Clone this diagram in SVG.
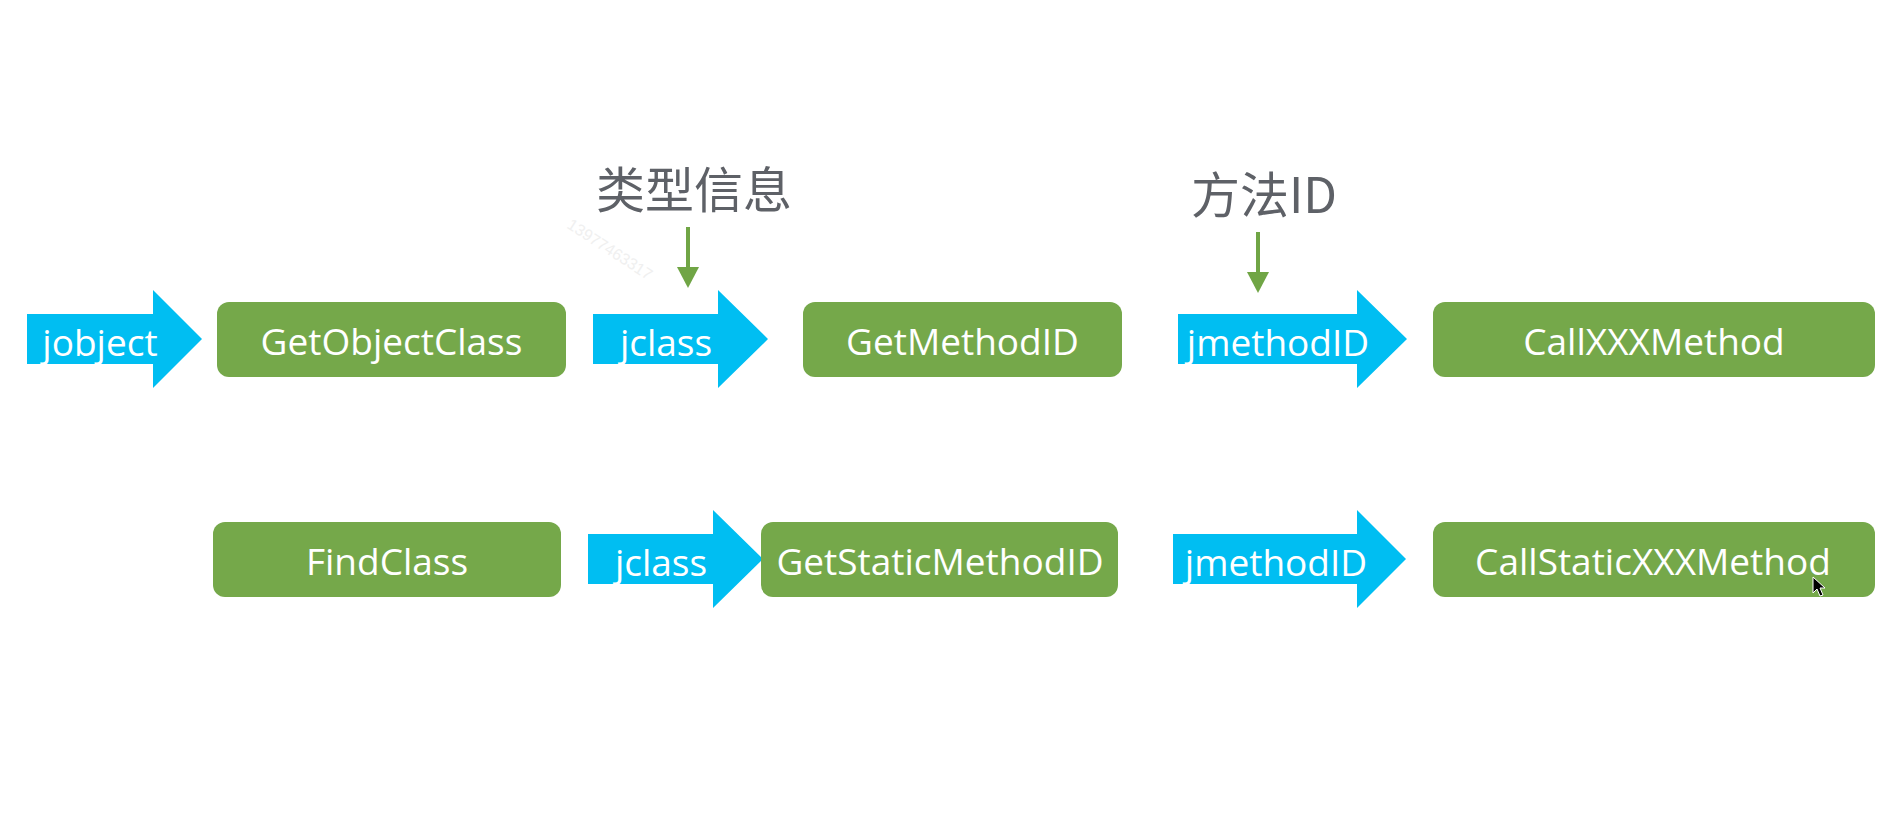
<svg xmlns="http://www.w3.org/2000/svg" width="1899" height="837" viewBox="0 0 1899 837">
  <style>
    .box { fill: #75A84A; }
    .flow { fill: #00BEF2; }
    .lbl { font-family: "Open Sans", "Noto Sans", "Liberation Sans", sans-serif; font-size: 37px; fill: #FFFFFF; text-anchor: middle; }
    .note { font-family: "Noto Sans CJK SC", "Noto Sans", sans-serif; font-size: 49px; fill: #5E6167; }
    .down { stroke: #70A545; stroke-width: 4; fill: none; }
    .downhead { fill: #70A545; }
    .wm { font-family: "Liberation Sans", sans-serif; font-size: 16px; fill: #F0F0F0; }
  </style>
  <rect x="0" y="0" width="1899" height="837" fill="#FFFFFF"/>

  <text class="wm" transform="translate(607,254) rotate(33)" text-anchor="middle">13977463317</text>

  <g id="connectors">
    <g id="flow-jobject">
      <polygon class="flow" points="27,314 153,314 153,290 202,339 153,388 153,364 27,364"/>
      <text class="lbl" x="100" y="356">jobject</text>
    </g>
    <g id="flow-jclass-1">
      <polygon class="flow" points="593,314 718,314 718,290 768,339 718,388 718,364 593,364"/>
      <text class="lbl" x="666" y="356">jclass</text>
    </g>
    <g id="flow-jmethodID-1">
      <polygon class="flow" points="1178,314 1357,314 1357,290 1407,339 1357,388 1357,364 1178,364"/>
      <text class="lbl" x="1278" y="356">jmethodID</text>
    </g>
    <g id="flow-jclass-2">
      <polygon class="flow" points="588,534 713,534 713,510 763,559 713,608 713,584 588,584"/>
      <text class="lbl" x="661" y="576">jclass</text>
    </g>
    <g id="flow-jmethodID-2">
      <polygon class="flow" points="1173,534 1357,534 1357,510 1406,559 1357,608 1357,584 1173,584"/>
      <text class="lbl" x="1276" y="576">jmethodID</text>
    </g>
    <g id="down-type">
      <line class="down" x1="688" y1="227" x2="688" y2="268"/>
      <polygon class="downhead" points="677,267 699,267 688,288"/>
    </g>
    <g id="down-method">
      <line class="down" x1="1258" y1="232" x2="1258" y2="273"/>
      <polygon class="downhead" points="1247,272 1269,272 1258,293"/>
    </g>
  </g>

  <g id="note-type">
    <text class="note" x="596" y="208">类型信息</text>
  </g>
  <g id="note-method">
    <text class="note" x="1191" y="213">方法ID</text>
  </g>

  <g id="node-GetObjectClass">
    <rect class="box" x="217" y="302" width="349" height="75" rx="12"/>
    <text class="lbl" x="391.5" y="355">GetObjectClass</text>
  </g>
  <g id="node-GetMethodID">
    <rect class="box" x="803" y="302" width="319" height="75" rx="12"/>
    <text class="lbl" x="962.5" y="355">GetMethodID</text>
  </g>
  <g id="node-CallXXXMethod">
    <rect class="box" x="1433" y="302" width="442" height="75" rx="12"/>
    <text class="lbl" x="1654" y="355">CallXXXMethod</text>
  </g>
  <g id="node-FindClass">
    <rect class="box" x="213" y="522" width="348" height="75" rx="12"/>
    <text class="lbl" x="387" y="575">FindClass</text>
  </g>
  <g id="node-GetStaticMethodID">
    <rect class="box" x="761" y="522" width="357" height="75" rx="12"/>
    <text class="lbl" x="940" y="575">GetStaticMethodID</text>
  </g>
  <g id="node-CallStaticXXXMethod">
    <rect class="box" x="1433" y="522" width="442" height="75" rx="12"/>
    <text class="lbl" x="1653" y="575">CallStaticXXXMethod</text>
  </g>

  <polygon points="1813,577 1813,593 1817,589 1820,596 1823,595 1820,588 1825,588" fill="#000000" stroke="#FFFFFF" stroke-width="1"/>
</svg>
